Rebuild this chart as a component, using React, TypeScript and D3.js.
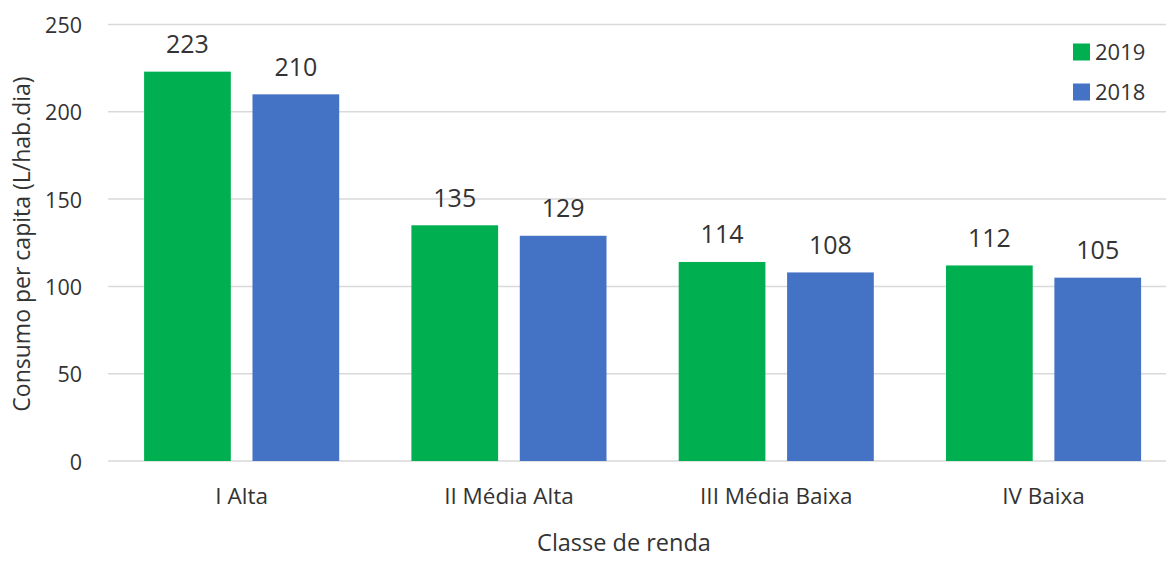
import React from "react";
import * as d3 from "d3";

// Consumo per capita por classe de renda
const categories = ["I Alta", "II Média Alta", "III Média Baixa", "IV Baixa"];
const seriesNames = ["2019", "2018"];
const values2019 = [223, 135, 114, 112];
const values2018 = [210, 129, 108, 105];
const yTicks = [0, 50, 100, 150, 200, 250];
const colors = ["#00B050", "#4472C4"];

const W = 1166;
const H = 569;
const FONT = "'Open Sans', 'Segoe UI', sans-serif";
const TEXT = "#333333";

export default function App() {
  const left = 108;
  const step = 267.3;
  const x0 = d3
    .scaleBand<string>()
    .domain(categories)
    .range([left, left + step * categories.length])
    .paddingInner(0)
    .paddingOuter(0);
  const x1 = d3
    .scaleBand<string>()
    .domain(seriesNames)
    .range([0, x0.bandwidth()])
    .paddingInner(0.2)
    .paddingOuter(0.333);
  const y = d3.scaleLinear().domain([0, 250]).range([461, 24.5]);

  const seriesValues = [values2019, values2018];

  return (
    <svg
      width={W}
      height={H}
      style={{ position: "absolute", left: 0, top: 0, background: "#fff" }}
      fontFamily={FONT}
    >
      <rect x={0} y={0} width={W} height={H} fill="#fff" />
      {/* grid lines */}
      {yTicks.map((t) => (
        <line
          key={"g" + t}
          x1={left}
          x2={W}
          y1={y(t)}
          y2={y(t)}
          stroke="#d9d9d9"
          strokeWidth={1.5}
        />
      ))}
      {/* y tick labels */}
      {yTicks.map((t) => (
        <text
          key={"t" + t}
          x={82}
          y={y(t) + 8.5}
          textAnchor="end"
          fontSize={21.5}
          fill={TEXT}
        >
          {t}
        </text>
      ))}
      {/* bars and value labels */}
      {categories.map((c, i) => (
        <g key={c} transform={`translate(${x0(c)},0)`}>
          {seriesNames.map((s, j) => {
            const v = seriesValues[j][i];
            const bx = x1(s)!;
            return (
              <g key={s}>
                <rect
                  x={bx}
                  y={y(v)}
                  width={x1.bandwidth()}
                  height={y(0) - y(v)}
                  fill={colors[j]}
                />
                <text
                  x={bx + x1.bandwidth() / 2}
                  y={y(v) - 18.5}
                  textAnchor="middle"
                  fontSize={25}
                  fill={TEXT}
                >
                  {v}
                </text>
              </g>
            );
          })}
          <text
            x={x0.bandwidth() / 2}
            y={503.5}
            textAnchor="middle"
            fontSize={22.5}
            fill={TEXT}
          >
            {c}
          </text>
        </g>
      ))}
      {/* axis titles */}
      <text x={624} y={551} textAnchor="middle" fontSize={23.5} fill={TEXT}>
        Classe de renda
      </text>
      <text
        transform="translate(30,244) rotate(-90)"
        textAnchor="middle"
        fontSize={23}
        fill={TEXT}
      >
        Consumo per capita (L/hab.dia)
      </text>
      {/* legend */}
      {seriesNames.map((s, j) => (
        <g key={"l" + s} transform={`translate(1073,${52 + j * 40})`}>
          <rect x={0} y={-8.5} width={17} height={17} fill={colors[j]} />
          <text x={22} y={8} fontSize={22} fill={TEXT}>
            {s}
          </text>
        </g>
      ))}
    </svg>
  );
}
